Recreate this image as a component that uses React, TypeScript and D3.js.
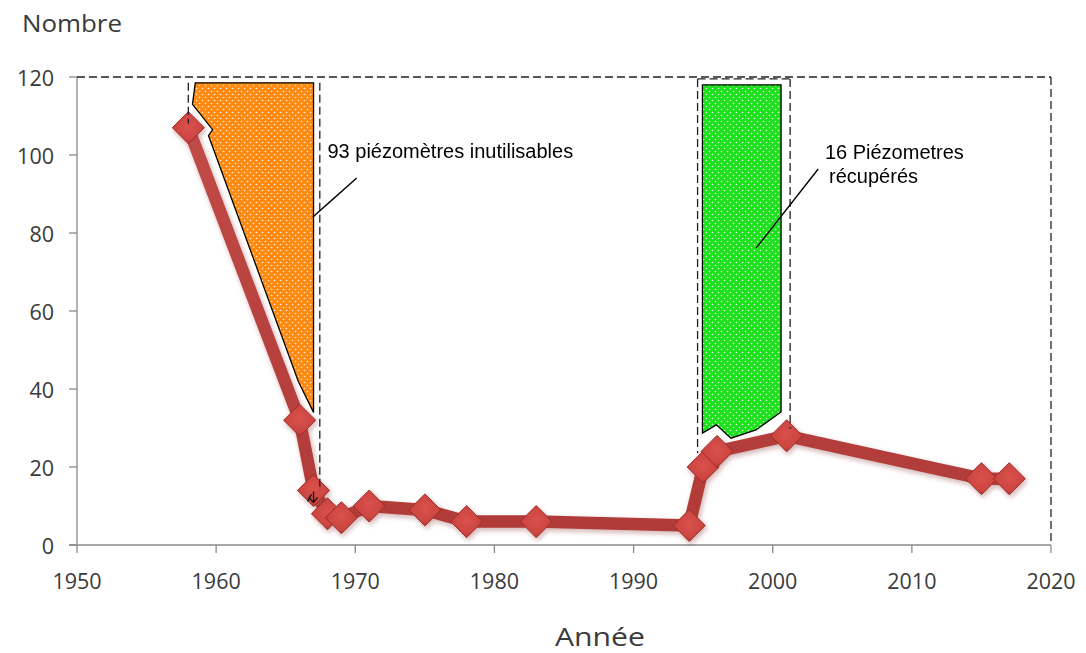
import React from 'react';
import * as d3 from 'd3';

// ---- data ----
const years = [1958, 1966, 1967, 1968, 1969, 1971, 1975, 1978, 1983, 1994, 1995, 1996, 2001, 2015, 2017];
const counts = [107, 32, 14, 8, 7, 10, 9, 6, 6, 5, 20, 24, 28, 17, 17];
const xTicks = [1950, 1960, 1970, 1980, 1990, 2000, 2010, 2020];
const yTicks = [0, 20, 40, 60, 80, 100, 120];

// annotation shapes in data coordinates (year, count)
const orangeZone: [number, number][] = [
  [1958.5, 118.5], [1958.3, 113], [1959.75, 106.5], [1959.45, 105],
  [1965.9, 42], [1967, 34], [1967, 118.5],
];
const greenZone: [number, number][] = [
  [1994.95, 118], [2000.6, 118], [2000.6, 34.1], [1998.8, 29.5],
  [1997.0, 27.4], [1995.95, 30.8], [1994.95, 28.7],
];
const dashedSegments: [number, number][][] = [
  [[1950, 120], [2020, 120]],
  [[2020, 120], [2020, 0]],
  [[1958.0, 118.5], [1958.0, 108]],
  [[1967.45, 118.5], [1967.45, 14.5]],
  [[1994.6, 119.5], [2001.25, 119.5]],
  [[1994.6, 119.5], [1994.6, 23.5]],
  [[2001.25, 119.5], [2001.25, 29.8]],
];
const leaders: [number, number][][] = [
  [[1970.1, 94.1], [1966.95, 84.1]],
  [[2003.27, 96.4], [1998.82, 76.2]],
];
const labelOrange = { year: 1968.0, value: 99.2, text: '93 piézomètres inutilisables' };
const labelGreen = [
  { year: 2003.75, value: 99.0, text: '16 Piézometres' },
  { year: 2004.05, value: 92.8, text: 'récupérés' },
];

const W = 1086;
const H = 653;

export default function App() {
  const x = d3.scaleLinear().domain([1950, 2020]).range([77, 1051]);
  const y = d3.scaleLinear().domain([0, 120]).range([545, 77]);
  const pts = years.map((yr, i) => [x(yr), y(counts[i])] as [number, number]);
  const line = d3.line<[number, number]>().x((d) => d[0]).y((d) => d[1]);
  const poly = (arr: [number, number][]) =>
    d3.line<[number, number]>().x((d) => x(d[0])).y((d) => y(d[1]))(arr) + 'Z';
  const seg = (arr: [number, number][]) =>
    d3.line<[number, number]>().x((d) => x(d[0])).y((d) => y(d[1]))(arr) as string;
  const r = 16;
  const diamond = `M0,${-r}L${r},0L0,${r}L${-r},0Z`;
  const tickFont = "'Open Sans', sans-serif";
  const p1967 = pts[2];

  return (
    <svg width={W} height={H} style={{ position: 'absolute', left: 0, top: 0, background: '#fff' }}>
      <defs>
        <pattern id="dotsO" width="6" height="6" patternUnits="userSpaceOnUse">
          <rect width="6" height="6" fill="#ff8a12" />
          <circle cx="1.5" cy="1.5" r="0.8" fill="#fff" opacity="0.85" />
          <circle cx="4.5" cy="4.5" r="0.8" fill="#fff" opacity="0.85" />
        </pattern>
        <pattern id="dotsG" width="6" height="6" patternUnits="userSpaceOnUse">
          <rect width="6" height="6" fill="#1ee01e" />
          <circle cx="1.5" cy="1.5" r="0.8" fill="#fff" opacity="0.85" />
          <circle cx="4.5" cy="4.5" r="0.8" fill="#fff" opacity="0.85" />
        </pattern>
        <filter id="shadow" x="-20%" y="-20%" width="140%" height="140%">
          <feDropShadow dx="1.5" dy="2.5" stdDeviation="2.5" floodColor="#7a1f1c" floodOpacity="0.35" />
        </filter>
        <radialGradient id="dGrad" cx="50%" cy="45%" r="60%">
          <stop offset="0%" stopColor="#d9524d" />
          <stop offset="70%" stopColor="#cc4540" />
          <stop offset="100%" stopColor="#a8302c" />
        </radialGradient>
        <linearGradient id="lGrad" x1="0" y1="0" x2="0" y2="1">
          <stop offset="0%" stopColor="#c04a46" />
          <stop offset="100%" stopColor="#b03b38" />
        </linearGradient>
      </defs>

      {/* axis titles */}
      <text x={22} y={32} fontFamily={tickFont} fontSize={23} fill="#3a3a3a" textLength={100} lengthAdjust="spacingAndGlyphs">
        Nombre
      </text>
      <text x={600} y={646} fontFamily={tickFont} fontSize={25} fill="#3a3a3a" textAnchor="middle" textLength={90} lengthAdjust="spacingAndGlyphs">
        Année
      </text>

      {/* axes */}
      <line x1={77} x2={77} y1={y(120)} y2={y(0)} stroke="#8a8a8a" strokeWidth={1.3} />
      <line x1={69} x2={x(2020)} y1={y(0)} y2={y(0)} stroke="#8a8a8a" strokeWidth={1.3} />
      {yTicks.map((t) => (
        <g key={'y' + t}>
          <line x1={69} x2={77} y1={y(t)} y2={y(t)} stroke="#8a8a8a" strokeWidth={1.3} />
          <text x={54} y={y(t) + 9} fontFamily={tickFont} fontSize={21.5} fill="#3a3a3a" textAnchor="end">
            {t}
          </text>
        </g>
      ))}
      {xTicks.map((t) => (
        <g key={'x' + t}>
          <line x1={x(t)} x2={x(t)} y1={545} y2={553} stroke="#8a8a8a" strokeWidth={1.3} />
          <text x={x(t)} y={589} fontFamily={tickFont} fontSize={21.5} fill="#3a3a3a" textAnchor="middle">
            {t}
          </text>
        </g>
      ))}

      {/* zones */}
      <path d={poly(orangeZone)} fill="url(#dotsO)" stroke="#000" strokeWidth={1.3} />
      <path d={poly(greenZone)} fill="url(#dotsG)" stroke="#000" strokeWidth={1.3} />

      {/* series */}
      <g filter="url(#shadow)">
        <path d={line(pts) as string} fill="none" stroke="url(#lGrad)" strokeWidth={12.5} strokeLinejoin="round" strokeLinecap="round" />
        {pts.map((p, i) => (
          <path key={i} d={diamond} transform={`translate(${p[0]},${p[1]})`} fill="url(#dGrad)" stroke="#9c2c29" strokeWidth={1} />
        ))}
      </g>

      {/* dashed lines */}
      {dashedSegments.map((s, i) => (
        <path key={'d' + i} d={seg(s)} fill="none" stroke="#222" strokeWidth={1.3} strokeDasharray="8,4" />
      ))}

      {/* leaders */}
      {leaders.map((s, i) => (
        <path key={'l' + i} d={seg(s)} fill="none" stroke="#000" strokeWidth={1.4} />
      ))}

      {/* small cursor glyph */}
      <path
        d={`M${p1967[0]},${p1967[1] + 1} L${p1967[0]},${p1967[1] + 12} M${p1967[0] - 5},${p1967[1] + 7} L${p1967[0]},${p1967[1] + 12} L${p1967[0] + 4},${p1967[1] + 7} M${p1967[0] - 6},${p1967[1] + 11} L${p1967[0] - 2},${p1967[1] + 4}`}
        fill="none"
        stroke="#111"
        strokeWidth={1.3}
      />

      {/* labels */}
      <text x={x(labelOrange.year)} y={y(labelOrange.value)} fontFamily="'Liberation Sans', Arial, sans-serif" fontSize={20} fill="#000">
        {labelOrange.text}
      </text>
      {labelGreen.map((l, i) => (
        <text key={'g' + i} x={x(l.year)} y={y(l.value)} fontFamily="'Liberation Sans', Arial, sans-serif" fontSize={20} fill="#000">
          {l.text}
        </text>
      ))}
    </svg>
  );
}
